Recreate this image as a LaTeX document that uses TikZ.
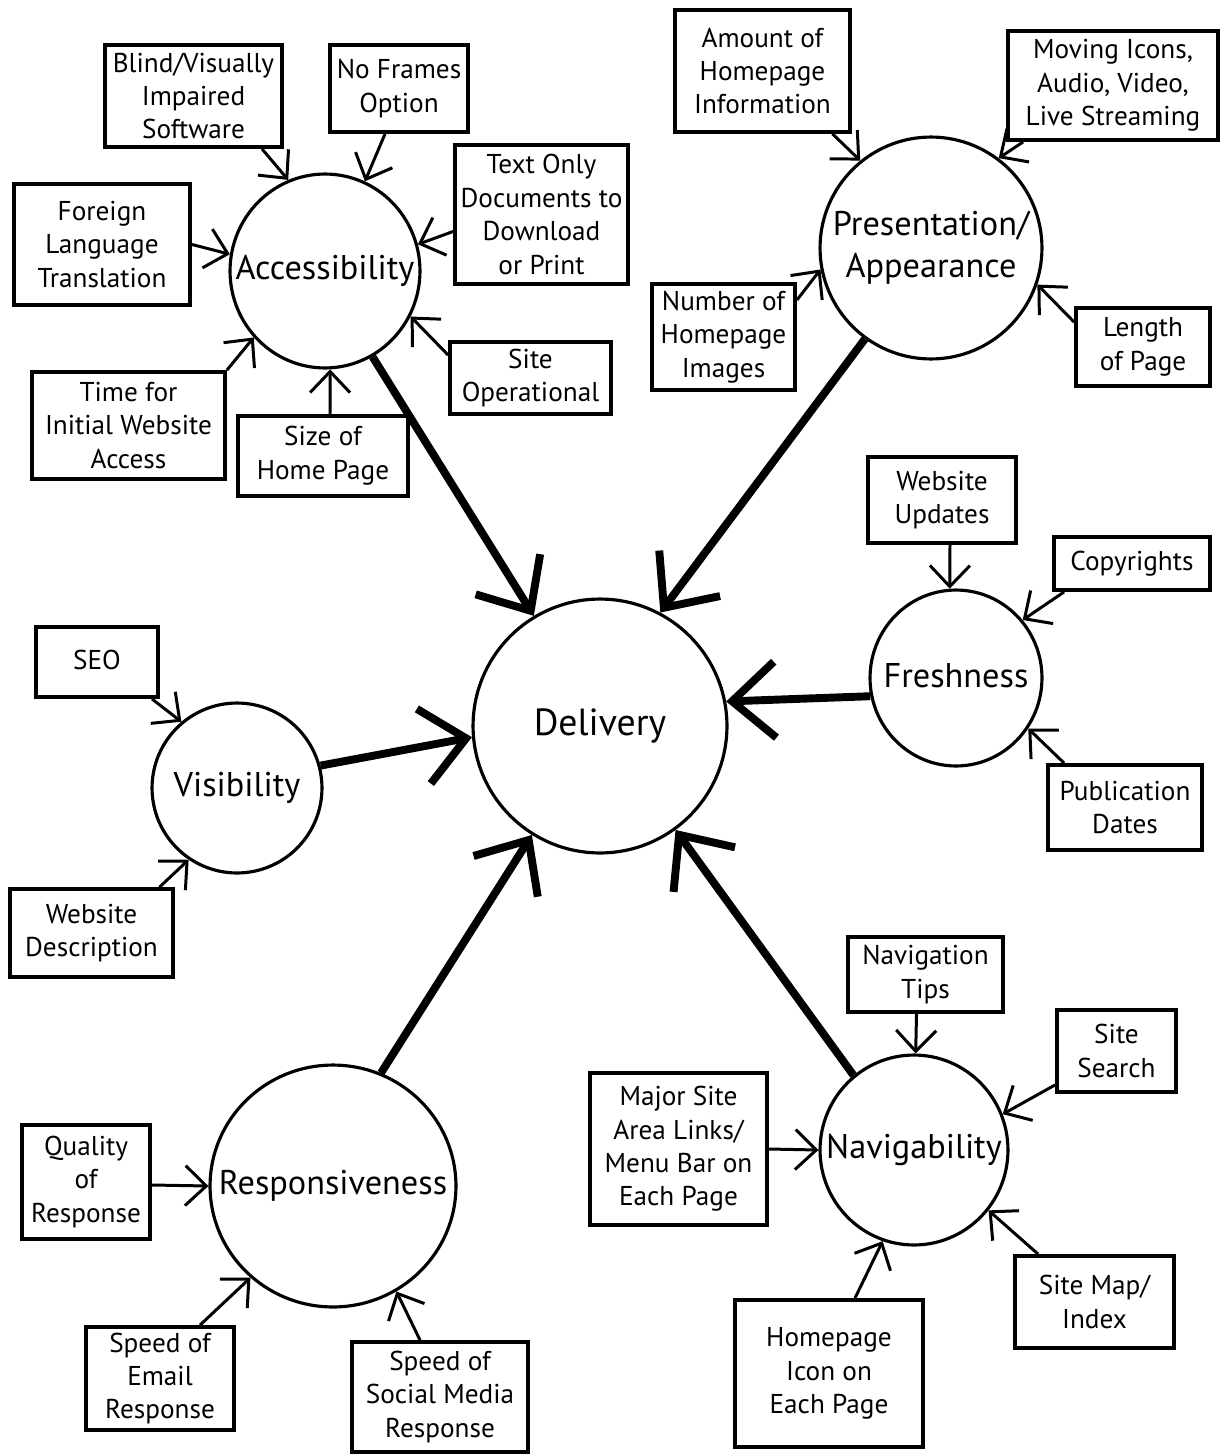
\documentclass[tikz,border=0pt]{standalone}
\usepackage{fontspec}
\setmainfont{PT Sans}
\usetikzlibrary{arrows.meta,shapes.geometric,calc}
\begin{document}
\begin{tikzpicture}[x=0.02cm,y=-0.02cm,
  box/.style 2 args={draw, line width=2.2pt, rectangle, inner sep=0pt,
    minimum width=#1*0.02cm, minimum height=#2*0.02cm, align=center,
    font=\fontsize{15.5}{19}\selectfont},
  topic/.style 2 args={draw, line width=1.8pt, ellipse, inner sep=0pt,
    minimum width=#1*0.04cm, minimum height=#2*0.04cm,
    font=\fontsize{19.5}{24}\selectfont},
  feed/.style={line width=1.7pt, -{Straight Barb[length=0.42cm,width=0.8cm]}},
  main/.style={line width=4.5pt, -{Straight Barb[length=0.86cm,width=1.52cm]}}]
\useasboundingbox (0,0) rectangle (1222,1454);

% central concept and the six factors
\node[topic={127}{127}, font=\fontsize{21.5}{26}\selectfont] (del) at (600,726) {\makebox[0pt]{Delivery}};
\node[topic={95}{97}]   (acc)   at (325,271)  {\makebox[0pt]{Accessibility}};
\node[topic={111}{111}] (pres)  at (931,248)  {\makebox[0pt]{\raisebox{3pt}{\begin{tabular}{@{}c@{}}Presentation/\\Appearance\end{tabular}}}};
\node[topic={86}{88}]   (fresh) at (956,678)  {\makebox[0pt]{\raisebox{3pt}{Freshness}}};
\node[topic={85}{85}]   (vis)   at (237,788)  {\makebox[0pt]{Visibility}};
\node[topic={123}{121}] (resp)  at (333,1186) {\makebox[0pt]{Responsiveness}};
\node[topic={94}{95}]   (nav)   at (914,1150) {\makebox[0pt]{Navigability}};

% accessibility items
\node[box={177}{102}] (blind)    at (193.5,96)   {Blind/Visually\\Impaired\\Software};
\node[box={138}{87}]  (noframes) at (399,88.5)   {No Frames\\Option};
\node[box={173}{139}] (textonly) at (541.5,214.5){Text Only\\Documents to\\Download\\or Print};
\node[box={176}{121}] (foreign)  at (102,244.5)  {Foreign\\Language\\Translation};
\node[box={193}{107}] (timefor)  at (128.5,425.5){Time for\\Initial Website\\Access};
\node[box={170}{80}]  (sizehp)   at (323,456)    {\raisebox{5pt}{\begin{tabular}{@{}c@{}}Size of\\Home Page\end{tabular}}};
\node[box={161}{72}]  (siteop)   at (530.5,378)  {Site\\Operational};

% presentation items
\node[box={175}{122}] (amount)   at (762.5,71)   {Amount of\\Homepage\\Information};
\node[box={210}{109}] (moving)   at (1113,85.5)  {Moving Icons,\\Audio, Video,\\Live Streaming};
\node[box={143}{106}] (number)   at (723.5,337)  {Number of\\Homepage\\Images};
\node[box={134}{78}]  (lengthpg) at (1143,347)   {Length\\of Page};

% freshness items
\node[box={148}{86}]  (updates)  at (942,500)    {Website\\Updates};
\node[box={156}{53}]  (copyr)    at (1132,563.5) {Copyrights};
\node[box={154}{85}]  (pubdates) at (1125,807.5) {Publication\\Dates};

% visibility items
\node[box={122}{70}]  (seo)      at (97,662)     {\raisebox{3pt}{SEO}};
\node[box={163}{88}]  (desc)     at (91.5,933)   {Website\\Description};

% responsiveness items
\node[box={128}{114}] (quality)  at (86,1182)    {Quality\\of\\Response};
\node[box={148}{103}] (email)    at (160,1378.5) {Speed of\\Email\\Response};
\node[box={176}{110}] (social)   at (440,1397)   {Speed of\\Social Media\\Response};

% navigability items
\node[box={155}{75}]  (tips)     at (925.5,974.5){Navigation\\Tips};
\node[box={119}{82}]  (search)   at (1116.5,1051){Site\\Search};
\node[box={177}{152}] (major)    at (678.5,1149) {Major Site\\Area Links/\\Menu Bar on\\Each Page};
\node[box={159}{92}]  (sitemap)  at (1094.5,1302){Site Map/\\Index};
\node[box={188}{147}] (hpicon)   at (829,1373.5) {Homepage\\Icon on\\Each Page};

% feeders into accessibility
\draw[feed] ($(blind.south)+(68.5,0)$)   -- (acc.112);
\draw[feed] ($(noframes.south)+(-14,0)$) -- (acc.66);
\draw[feed] ($(textonly.west)+(0,17)$)   -- (acc.16);
\draw[feed] (foreign.east)               -- (acc.170);
\draw[feed] (timefor.north east)         -- (acc.223);
\draw[feed] ($(sizehp.north)+(7,0)$)     -- (acc.273);
\draw[feed] ($(siteop.west)+(0,-23)$)    -- (acc.332);

% feeders into presentation
\draw[feed] ($(amount.south)+(70,0)$)    -- (pres.129);
\draw[feed] ($(moving.south west)+(17,0)$) -- (pres.53);
\draw[feed] ($(number.east)+(0,-37)$)    -- (pres.191);
\draw[feed] ($(lengthpg.west)+(0,-25)$)  -- (pres.341);

% feeders into freshness
\draw[feed] ($(updates.south)+(8,0)$)    -- (fresh.94);
\draw[feed] ($(copyr.south west)+(12,0)$) -- (fresh.41);
\draw[feed] ($(pubdates.north west)+(18,0)$) -- (fresh.325);

% feeders into visibility
\draw[feed] ($(seo.south east)+(-8,0)$)  -- (vis.130);
\draw[feed] ($(desc.north)+(68,0)$)      -- (vis.236);

% feeders into responsiveness
\draw[feed] ($(quality.east)+(0,3)$)     -- (resp.180);
\draw[feed] ($(email.north)+(40,0)$)     -- (resp.228);
\draw[feed] ($(social.north)+(-20,0)$)   -- (resp.301);

% feeders into navigability
\draw[feed] ($(tips.south)+(-9,0)$)      -- (nav.89);
\draw[feed] ($(search.south west)+(0,-9)$) -- (nav.22);
\draw[feed] (major.east)                 -- (nav.180);
\draw[feed] ($(sitemap.north west)+(25,0)$) -- (nav.321);
\draw[feed] ($(hpicon.north)+(26,0)$)    -- (nav.251);

% factors into delivery
\draw[main] (acc.299)   -- (del.121);
\draw[main] (pres.234)  -- (del.62);
\draw[main] (fresh.192) -- (del.11);
\draw[main] (vis.15)    -- (del.185);
\draw[main] (resp.67)   -- (del.238);
\draw[main] (nav.129)   -- (del.306);
\end{tikzpicture}
\end{document}
